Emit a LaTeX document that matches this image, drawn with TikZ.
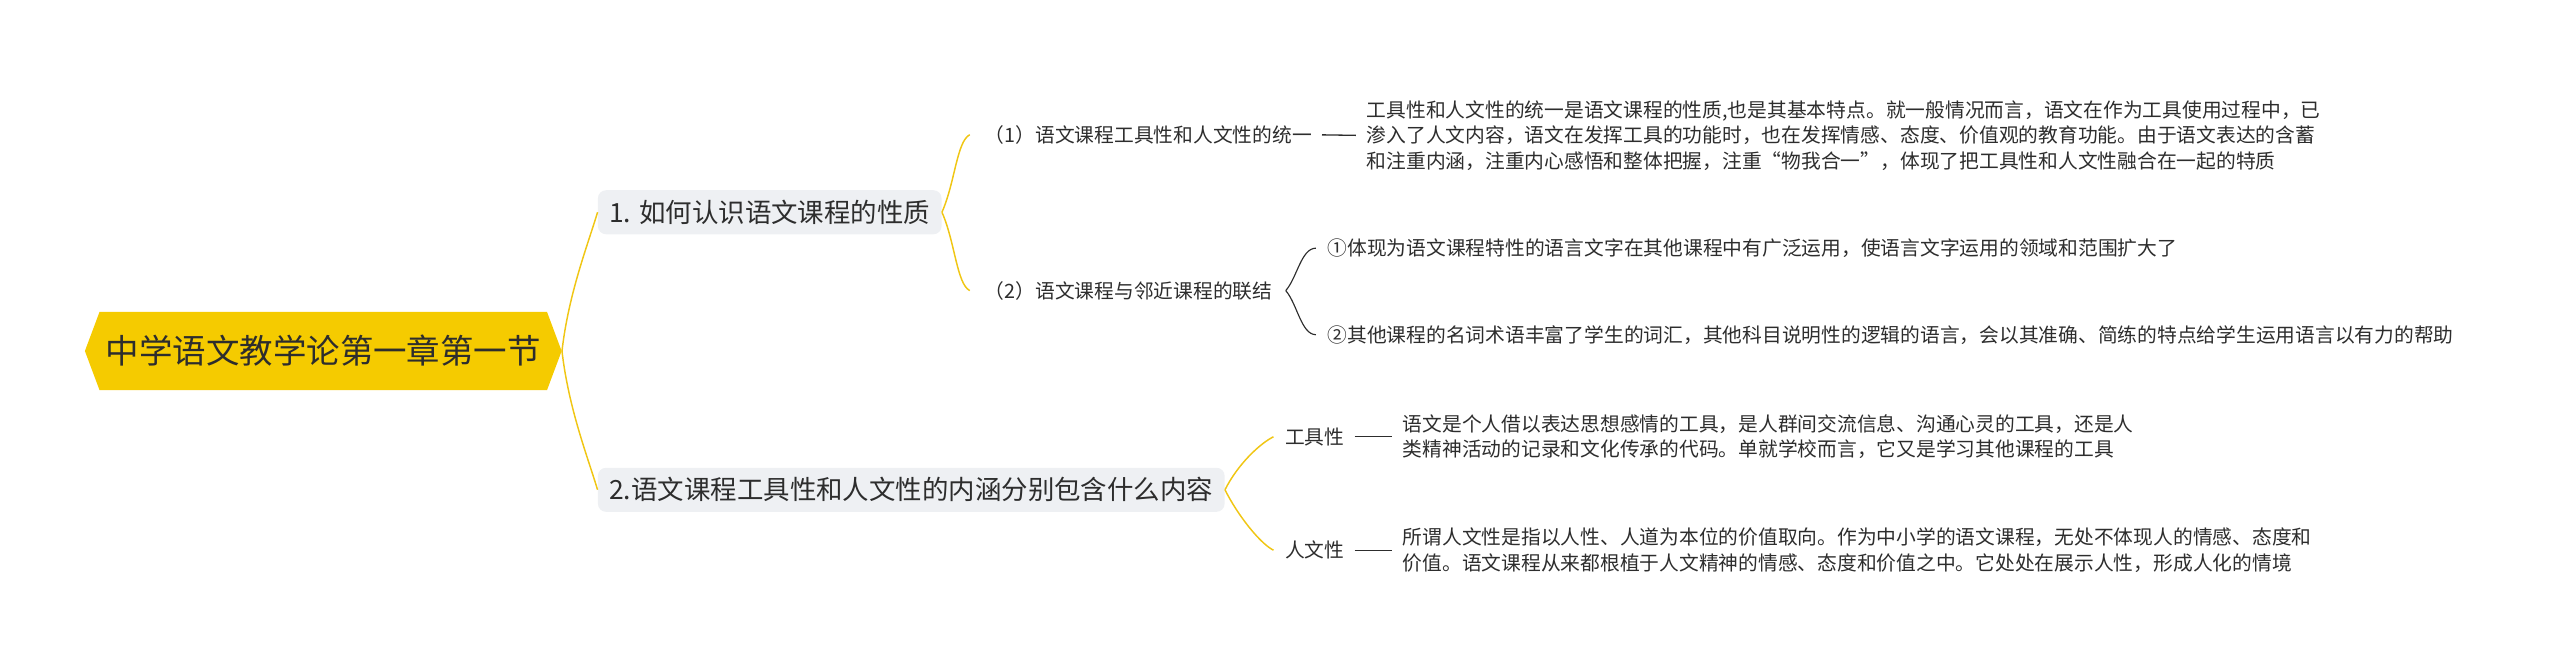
\documentclass[tikz,border=0pt]{standalone}
\usepackage{fontspec}
\usepackage{tikz}
\usetikzlibrary{positioning,shapes.symbols}
\newfontfamily\cjk{Noto Sans CJK SC}
\definecolor{mapgold}{RGB}{245,203,0}
\definecolor{linegold}{RGB}{240,198,20}
\definecolor{topicgray}{RGB}{238,240,243}
\definecolor{inkdark}{RGB}{45,45,45}
\tikzset{
  rootnode/.style={signal, signal to=west and east, signal pointer angle=139,
                   fill=mapgold, minimum width=292pt, minimum height=48pt, inner sep=0pt,
                   font=\cjk\fontsize{20.5}{24}\selectfont, text=inkdark},
  topic/.style={rectangle, rounded corners=5pt, fill=topicgray, minimum height=27pt,
                inner xsep=7pt, inner ysep=0pt, anchor=west,
                font=\cjk\fontsize{16.2}{19}\selectfont, text=inkdark},
  sub/.style={inner sep=0pt, anchor=west, font=\cjk\fontsize{12.1}{15.6}\selectfont, text=inkdark},
  para/.style={sub, align=left},
  goldlink/.style={draw=linegold, line width=0.9pt},
  inklink/.style={draw=inkdark, line width=0.7pt},
  dashlink/.style={draw=inkdark, line width=0.8pt, shorten <=6pt, shorten >=6.5pt}
}

\begin{document}
\begin{tikzpicture}[x=1pt, y=-1pt]
\useasboundingbox (0,0) rectangle (1568,410);
\node[rootnode] (root) at (198,215) {中学语文教学论第一章第一节};
\node[topic] (b1) at (366,130) {1. 如何认识语文课程的性质};
\node[topic] (b2) at (366,300) {2.语文课程工具性和人文性的内涵分别包含什么内容};
\draw[goldlink] (root.east) .. controls +(4,-35) and +(-6,20) .. (b1.west);
\draw[goldlink] (root.east) .. controls +(4,35) and +(-6,-20) .. (b2.west);
% first topic
\node[sub] (s1) at (603,82.5) {（1）语文课程工具性和人文性的统一};
\node[para] (p1) at (837,83) {工具性和人文性的统一是语文课程的性质,也是其基本特点。就一般情况而言，语文在作为工具使用过程中，已\\
渗入了人文内容，语文在发挥工具的功能时，也在发挥情感、态度、价值观的教育功能。由于语文表达的含蓄\\
和注重内涵，注重内心感悟和整体把握，注重“物我合一”，体现了把工具性和人文性融合在一起的特质};
\draw[dashlink] (s1.east) -- (p1.west);
\node[sub] (s2) at (603,178) {（2）语文课程与邻近课程的联结};
\node[sub] (s2a) at (813,152) {①体现为语文课程特性的语言文字在其他课程中有广泛运用，使语言文字运用的领域和范围扩大了};
\node[sub] (s2b) at (813,205) {②其他课程的名词术语丰富了学生的词汇，其他科目说明性的逻辑的语言，会以其准确、简练的特点给学生运用语言以有力的帮助};
\draw[goldlink] (b1.east) .. controls +(8,-18) and +(-8,4) .. ([xshift=-9pt]s1.west);
\draw[goldlink] (b1.east) .. controls +(8,18) and +(-8,-4) .. ([xshift=-9pt]s2.west);
\draw[inklink] ([xshift=8pt]s2.east) .. controls +(7,-8) and +(-9,0) .. ([xshift=-7pt]s2a.west);
\draw[inklink] ([xshift=8pt]s2.east) .. controls +(7,8) and +(-9,0) .. ([xshift=-7pt]s2b.west);
% second topic
\node[sub] (t1) at (787,267.5) {工具性};
\node[para] (q1) at (859,267.5) {语文是个人借以表达思想感情的工具，是人群间交流信息、沟通心灵的工具，还是人\\
类精神活动的记录和文化传承的代码。单就学校而言，它又是学习其他课程的工具};
\draw[dashlink] (t1.east) -- (q1.west);
\node[sub] (t2) at (787,337) {人文性};
\node[para] (q2) at (859,337) {所谓人文性是指以人性、人道为本位的价值取向。作为中小学的语文课程，无处不体现人的情感、态度和\\
价值。语文课程从来都根植于人文精神的情感、态度和价值之中。它处处在展示人性，形成人化的情境};
\draw[dashlink] (t2.east) -- (q2.west);
\draw[goldlink] (b2.east) .. controls +(8,-16) and +(-8,4) .. ([xshift=-7pt]t1.west);
\draw[goldlink] (b2.east) .. controls +(8,16) and +(-8,-4) .. ([xshift=-7pt]t2.west);
\end{tikzpicture}
\end{document}
